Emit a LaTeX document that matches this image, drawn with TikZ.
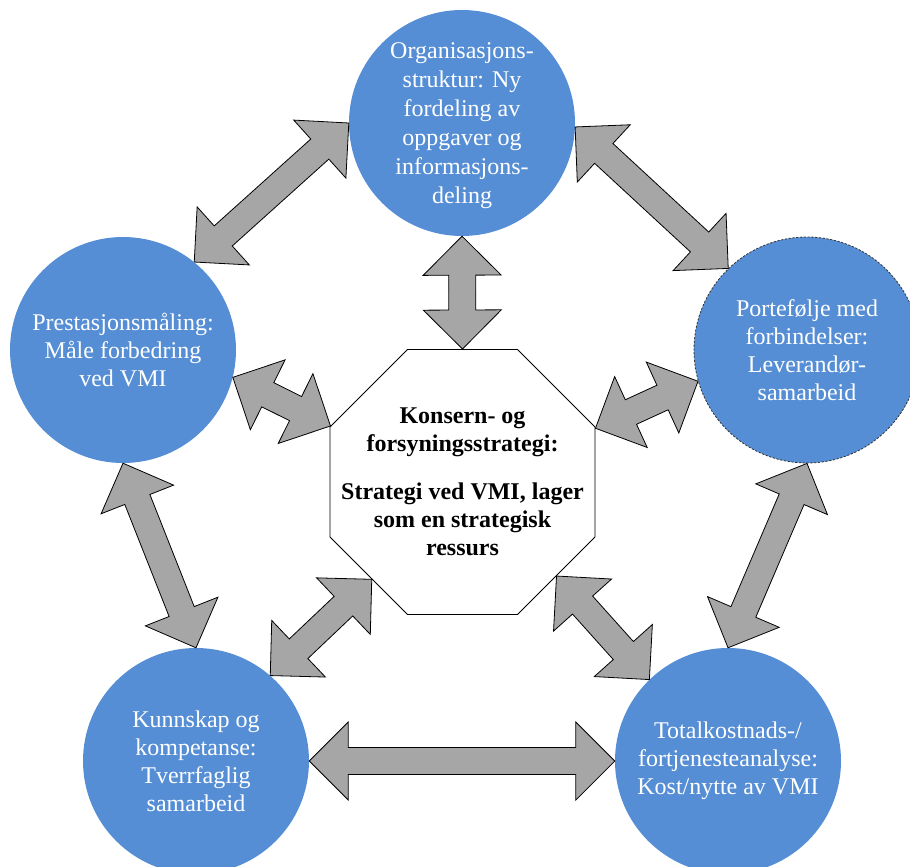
\documentclass[tikz,border=0pt]{standalone}
\usepackage{fontspec}
\setmainfont{Liberation Serif}
\usetikzlibrary{calc,shapes.geometric}

\definecolor{discblue}{RGB}{85,142,213}
\definecolor{arrowgray}{RGB}{166,166,166}

\tikzset{
  disc/.style={circle, fill=discblue, minimum size=226pt, inner sep=0pt},
  dashedrim/.style={draw=black!80, line width=0.8pt, dash pattern=on 2.2pt off 1.6pt},
  disctext/.style={align=center, text=white, inner sep=0pt,
    font=\fontsize{24}{28}\selectfont},
  octo/.style={regular polygon, regular polygon sides=8, draw=black,
    line width=0.8pt, fill=white, minimum size=287pt, inner sep=0pt},
  octotext/.style={align=center, text=black, inner sep=0pt,
    font=\fontsize{24}{28}\selectfont\bfseries},
  arrowbody/.style={fill=arrowgray, draw=black, line width=0.8pt, line join=miter}
}

% block double arrow between two points: head length 39, head width 78, shaft 27
\newcommand\twoway[2]{%
  \filldraw[arrowbody] (#1)
    -- ($(#1)!39pt!(#2)!39pt!90:(#2)$)
    -- ($(#1)!39pt!(#2)!13.5pt!90:(#2)$)
    -- ($(#2)!39pt!(#1)!13.5pt!-90:(#1)$)
    -- ($(#2)!39pt!(#1)!39pt!-90:(#1)$)
    -- (#2)
    -- ($(#2)!39pt!(#1)!39pt!90:(#1)$)
    -- ($(#2)!39pt!(#1)!13.5pt!90:(#1)$)
    -- ($(#1)!39pt!(#2)!13.5pt!-90:(#2)$)
    -- ($(#1)!39pt!(#2)!39pt!-90:(#2)$)
    -- cycle;}

\begin{document}
\begin{tikzpicture}[x=1pt,y=-1pt]
\useasboundingbox (0,0) rectangle (910,867);

% discs
\node[disc] (org)  at (462,123) {};
\node[disc] (perf) at (123,350) {};
\node[disc, dashedrim] (port) at (807,350) {};
\node[disc] (know) at (196,761) {};
\node[disc] (cost) at (728,761) {};

% central octagon
\node[octo] (core) at (462.5,482) {};

% disc labels
\node[disctext, font=\fontsize{24}{29}\selectfont] (org-t) at ($(org)+(0,3)$) {Organisasjons-\\struktur: Ny\\fordeling av\\oppgaver og\\informasjons-\\deling};
\node[disctext] (perf-t) at (perf) {Prestasjonsmåling:\\Måle forbedring\\ved VMI};
\node[disctext] (port-t) at (port) {Portefølje med\\forbindelser:\\Leverandør-\\samarbeid};
\node[disctext] (know-t) at (know) {Kunnskap og\\kompetanse:\\Tverrfaglig\\samarbeid};
\node[disctext] (cost-t) at (cost) {Totalkostnads-/\\fortjenesteanalyse:\\Kost/nytte av VMI};
\node[octotext] (core-t) at (core) {Konsern- og\\forsyningsstrategi:\\[20pt]Strategi ved VMI, lager\\som en strategisk\\ressurs};

% connecting double arrows
\twoway{org.180}{perf.51}
\twoway{org.270}{core.90}
\twoway{org.358}{port.134}
\twoway{perf.346.5}{core.157.5}
\twoway{port.196}{core.22.5}
\twoway{perf.270}{know.90}
\twoway{port.270}{cost.90}
\twoway{core.227}{know.49}
\twoway{core.315.5}{cost.134}
\twoway{know.0}{cost.180}
\end{tikzpicture}
\end{document}
